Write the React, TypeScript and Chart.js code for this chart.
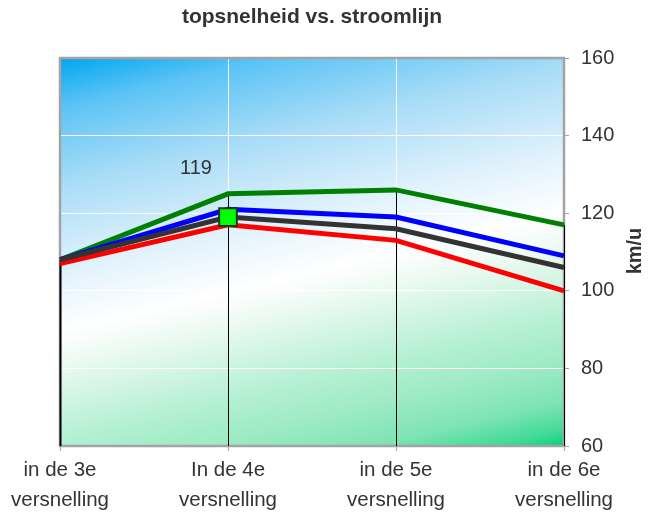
import React, { useEffect, useRef } from "react";
import { Chart, registerables } from "chart.js";

Chart.register(...registerables);

const chartTitle = "topsnelheid vs. stroomlijn";
const axisTitle = "km/u";
const categories = [
  ["in de 3e", "versnelling"],
  ["In de 4e", "versnelling"],
  ["in de 5e", "versnelling"],
  ["in de 6e", "versnelling"],
];
const greenSeries = [108, 125, 126, 117];
const blueSeries = [108, 121, 119, 109];
const graySeries = [108, 119, 116, 106];
const redSeries = [107, 117, 113, 100];
const yMin = 60;
const yMax = 160;
const yStep = 20;
const labelledIndex = 1;

const FONT = "'Liberation Sans', Arial, sans-serif";

const decorPlugin = {
  id: "decor",
  beforeDraw(chart: any) {
    const { ctx, chartArea } = chart;
    const { left, top, right, bottom } = chartArea;
    const w = right - left;
    const h = bottom - top;
    const nx = 0.23, ny = 0.973;
    const L = w * nx + h * ny;
    const g = ctx.createLinearGradient(left, top, left + nx * L, top + ny * L);
    g.addColorStop(0, "#00A6F0");
    g.addColorStop(0.1, "#5CC4F5");
    g.addColorStop(0.25, "#A8DCF7");
    g.addColorStop(0.42, "#E0F2FC");
    g.addColorStop(0.54, "#FFFFFF");
    g.addColorStop(0.6, "#EEFAF4");
    g.addColorStop(0.75, "#B5F0D3");
    g.addColorStop(0.83, "#9EEBC5");
    g.addColorStop(0.91, "#7FE4B5");
    g.addColorStop(0.97, "#3FDA95");
    g.addColorStop(1, "#00D27A");
    ctx.save();
    ctx.fillStyle = g;
    ctx.fillRect(left, top, w, h);
    ctx.restore();
  },
  beforeDatasetsDraw(chart: any) {
    const { ctx, chartArea, scales } = chart;
    const { left, top, right, bottom } = chartArea;
    ctx.save();
    ctx.strokeStyle = "#A3A3A3";
    ctx.lineWidth = 2.5;
    ctx.strokeRect(left, top, right - left, bottom - top);
    ctx.strokeStyle = "#000000";
    categories.forEach((_, i) => {
      const max = Math.max(greenSeries[i], blueSeries[i], graySeries[i], redSeries[i]);
      const px = Math.round(scales.x.getPixelForValue(i)) + 0.5;
      ctx.lineWidth = i === 0 ? 2 : 1;
      ctx.beginPath();
      ctx.moveTo(px, scales.y.getPixelForValue(max));
      ctx.lineTo(px, bottom);
      ctx.stroke();
    });
    ctx.restore();
  },
  afterDraw(chart: any) {
    const { ctx, chartArea, scales } = chart;
    ctx.save();
    ctx.fillStyle = "#333333";
    ctx.textAlign = "center";
    ctx.textBaseline = "middle";
    // title
    ctx.font = `bold 21px ${FONT}`;
    ctx.fillText(chartTitle, (chartArea.left + chartArea.right) / 2, 17);
    // data label
    const px = scales.x.getPixelForValue(labelledIndex);
    const py = scales.y.getPixelForValue(graySeries[labelledIndex]);
    ctx.font = `20px ${FONT}`;
    ctx.fillText(String(graySeries[labelledIndex]), px - 32, py - 49);
    // axis title
    ctx.translate(635, 251);
    ctx.rotate(-Math.PI / 2);
    ctx.font = `bold 20px ${FONT}`;
    ctx.fillText(axisTitle, 0, 0);
    ctx.restore();
  },
};

export default function App() {
  const ref = useRef<HTMLCanvasElement | null>(null);

  useEffect(() => {
    document.body.style.margin = "0";
    if (!ref.current) return;
    Chart.defaults.font.family = FONT;
    const chart = new Chart(ref.current, {
      type: "line",
      data: {
        labels: categories,
        datasets: [
          {
            label: "grijs",
            data: graySeries,
            borderColor: "#333333",
            borderWidth: 5,
            pointStyle: "rect",
            pointRadius: [0, 12.5, 0, 0],
            pointBackgroundColor: "#00FF00",
            pointBorderColor: "#1E3A1E",
            pointBorderWidth: 2,
            pointHoverRadius: 0,
            clip: false,
          },
          {
            label: "rood",
            data: redSeries,
            borderColor: "#FF0000",
            borderWidth: 5,
            pointRadius: 0,
            pointHoverRadius: 0,
            clip: false,
          },
          {
            label: "blauw",
            data: blueSeries,
            borderColor: "#0000FF",
            borderWidth: 5,
            pointRadius: 0,
            pointHoverRadius: 0,
            clip: false,
          },
          {
            label: "groen",
            data: greenSeries,
            borderColor: "#008000",
            borderWidth: 5,
            pointRadius: 0,
            pointHoverRadius: 0,
            clip: false,
          },
        ],
      },
      options: {
        animation: false,
        responsive: false,
        devicePixelRatio: 1,
        layout: { padding: { left: 60, top: 58, right: 0, bottom: 0 } },
        plugins: {
          legend: { display: false },
          title: { display: false },
          tooltip: { enabled: false },
        },
        scales: {
          x: {
            type: "category",
            offset: false,
            grid: {
              color: "#FFFFFF",
              lineWidth: 1,
              tickColor: "#A3A3A3",
              tickLength: 5,
              drawOnChartArea: true,
            },
            border: { display: false },
            ticks: {
              color: "#333333",
              padding: 4,
              maxRotation: 0,
              autoSkip: false,
              font: { size: 20.5, lineHeight: 1.46 },
            },
            afterFit: (scale: any) => {
              scale.height = 67;
            },
          },
          y: {
            position: "right",
            min: yMin,
            max: yMax,
            grid: {
              color: "#FFFFFF",
              lineWidth: 1,
              tickColor: "#A3A3A3",
              tickLength: 5,
            },
            border: { display: false },
            ticks: {
              stepSize: yStep,
              color: "#333333",
              padding: 12,
              font: { size: 20 },
            },
            afterFit: (scale: any) => {
              scale.width = 91;
            },
          },
        },
      },
      plugins: [decorPlugin],
    });
    return () => chart.destroy();
  }, []);

  return (
    <div style={{ width: 655, height: 513 }}>
      <canvas ref={ref} width={655} height={513} style={{ display: "block" }} />
    </div>
  );
}
